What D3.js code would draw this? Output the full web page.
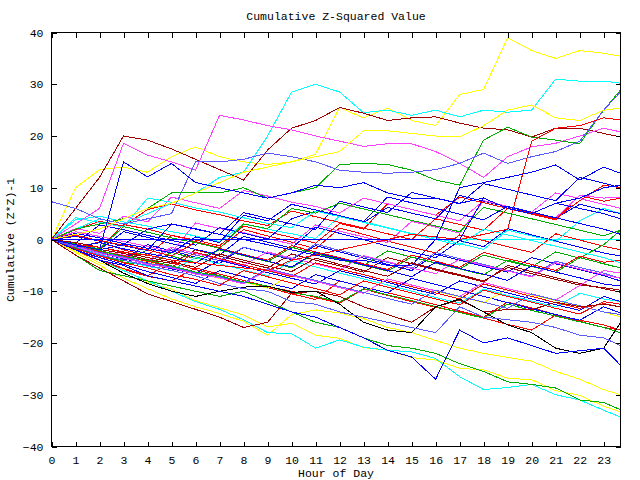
<!DOCTYPE html>
<html><head><meta charset="utf-8">
<script src="https://cdn.jsdelivr.net/npm/d3@7"></script>
<style>
body{margin:0;background:#fff}
text{font-family:"Liberation Mono","DejaVu Sans Mono",monospace;font-size:11.5px;fill:#000}
</style></head><body>
<svg id="c" width="640" height="480"></svg>
<script>
// ---------- data ----------
const hours = [0,1,2,3,4,5,6,7,8,9,10,11,12,13,14,15,16,17,18,19,20,21,22,23,23.7];
const xTicks = [0,1,2,3,4,5,6,7,8,9,10,11,12,13,14,15,16,17,18,19,20,21,22,23];
const yTicks = [-40,-30,-20,-10,0,10,20,30,40];
const title = "Cumulative Z-Squared Value";
const xLabel = "Hour of Day";
const yLabel = "Cumulative (Z*Z)-1";

const zeroYellow = [0,0,0,0,0,0,0,0,0,0,0,0,0,0,0,0,0,0,0,0,0,0,0,0,0];
const zeroCyan   = [0,0,0,0,0,0,0,0,0,0,0,0,0,0,0,0,0,0,0,0,0,0,0,0,0];
const topYellow  = [0,10,13.5,14,13,16,17.9,16,15,14.5,15,16.5,25.5,23.5,25.4,23,22,28,29,39,36.5,35,36.5,36,35.4];
const topCyan    = [0,2,4,3,5,7,9,12,13,20,28.5,30,28.5,24.5,25,24,25,23.7,25,24.6,25,31,30.6,30.6,30.2];
const topDarkRed = [0,6,12,20,19.2,17.5,15.5,13.5,11.5,17.3,21.5,23,25.5,24.4,23,23.5,23.7,22.5,21.5,21.2,19.8,21.5,21.5,20.5,19.8];
const topMagenta = [0,3,6,18.6,16.3,15,13.4,24,23.1,22,21.2,20,19,18,18.5,18.5,17,14.7,12,16,17.9,18.6,20,21.5,20.8];
const topGreen   = [0,2,3,4,6,9,9,9,10,8,9,10,14.5,14.7,14.5,13.4,11.5,10.5,19.2,21.7,19.8,19.2,18.5,25,28.9];
const topSlate   = [7.3,6,4,3,4,5,15,15,15.5,16.7,16,15,13.4,13,12.8,13,13.5,14.7,16.7,14.7,16,17,19,25,28.5];
const yellow2    = [0,1,2,4,6,7,9,11,13,14,15,16,17,21,21,20.5,20,19.8,22,25,26,23.5,23,25,25.4];
const redJump    = [0,-1,-1.5,-2.5,-3,-4,-4.5,-5,-5.5,-6,-4,-3,-2,-1,0,1,0.5,0,1,2,19,21.5,22,23.5,23.1];
const blueJump   = [0,-1,-2,-1,2,3,2,1,0,-1,-2,-3,-4,-4,-5,-5,0,10,11,12,13,14.4,11.5,14,12.8];
const blueHigh   = [0,-1,-2,15,12.1,14.7,11,10,9,8,9,10.5,10,11,9,8,8,7,8,6,5,7,8,10,10.5];
const lowYellow1 = [0,-2.5,-5,-7.5,-9.5,-11.5,-13,-14.3,-15.8,-18.5,-14.5,-13.6,-14.2,-15.3,-17,-18,-19.5,-21,-22,-22.8,-23.5,-25.5,-27,-29,-30];
const lowYellow2 = [0,-2.2,-4.5,-5.8,-8.3,-9.6,-11.8,-13.2,-14.6,-16.9,-16.2,-18.5,-19.1,-20.9,-21.4,-22.8,-23.3,-24.9,-25.2,-26.8,-27.1,-29.2,-30.1,-32.2,-33.3];
const lowCyan    = [0,-2,-4,-6,-8,-10,-12,-13.5,-15.5,-18,-18.2,-21,-19.4,-20.8,-21.4,-21.7,-23,-26.5,-29,-28.6,-28,-30,-31,-33,-34.3];
const lowGreen   = [0,-3,-6,-7,-8,-9,-10,-11,-10,-12,-14,-16,-17,-19,-20.5,-21,-22,-24,-25.5,-27.5,-28,-28.7,-31,-31.5,-32.9];
const lowDarkRed = [0,-3,-5.5,-8,-10.5,-12,-13.5,-15,-17,-16,-10.4,-10,-11,-13,-14.5,-16,-13,-11.7,-14,-13.5,-13.6,-12.1,-13,-12.5,-13];
const lowBlack   = [0,-2,-4,-6.5,-8.5,-10,-11,-10,-9.2,-9,-10.2,-10,-12.5,-16,-17.5,-18,-13,-11.5,-14,-16.5,-18,-21,-22,-21,-16.1];
const lowBlue    = [0,-2,-4,-5,-7,-8,-9,-10,-11,-12.5,-14,-15,-17,-19,-21.4,-22.7,-27,-17.5,-20,-19,-20.5,-22,-21.5,-21,-24.3];
const lowSlate   = [0,-1.5,-3,-4,-5,-6,-7,-8.5,-9.5,-10,-12,-12.5,-14,-15,-16,-17,-18,-13,-15,-15.5,-16,-17,-18.5,-19,-20.5];
const m1  = [0,-1.5,-0.5,-2.0,-3.1,0.8,-0.4,-1.6,1.9,0.7,-0.5,-1.8,2.2,1.0,-0.3,-1.5,-2.6,0.9,-0.2,-1.4,-2.5,1.1,-0.1,-1.3,-2.0];
const m2  = [0,-0.9,-2.0,1.5,0.4,-0.8,-1.9,-3.0,0.6,-0.5,-1.7,2.4,1.2,0.0,-1.3,-2.4,-3.5,-0.2,-1.4,2.1,0.9,-0.3,-1.5,-2.6,-3.2];
const m3  = [0,-1.6,-3.0,-4.1,-2.0,-3.2,-4.5,-1.9,-3.0,-4.2,-5.5,-2.6,-3.8,-5.0,-6.1,-3.4,-4.5,-5.7,-6.8,-4.0,-5.2,-6.3,-3.5,-4.7,-5.5];
const m4  = [0,1.5,0.6,-0.4,-1.3,-2.5,3.2,2.1,1.3,0.2,-0.9,2.8,1.6,0.5,-0.6,3.5,2.4,1.2,7.5,6.4,5.3,9.0,7.9,6.8,6.0];
const m5  = [0,3.8,4.5,3.4,2.6,1.5,0.7,-0.4,3.0,2.0,1.1,0.2,4.5,3.4,2.3,1.2,0.3,-0.8,-1.9,1.8,0.7,-0.4,3.6,6.0,5.0];
const m6  = [0,-2.1,-3.9,-5.6,-7.0,-4.5,-5.8,-7.0,-8.2,-9.3,-10.5,-11.6,-8.0,-9.2,-10.3,-11.4,-12.6,-13.8,-15.0,-12.1,-13.2,-14.5,-15.6,-16.5,-17.5];
const m7  = [0,-1.4,-2.6,-3.7,-1.0,-2.2,-3.4,-4.6,-1.5,-2.7,-3.9,-1.2,-2.4,-3.6,-4.8,-6.0,-2.8,-4.0,-5.2,-6.3,-3.5,-4.7,-5.8,-7.0,-8.0];
const m8  = [0,-0.8,-1.9,-2.7,-3.9,-4.6,-2.0,-3.2,-4.4,-5.5,-2.8,-4.0,-5.1,-6.3,-3.5,-4.7,-5.9,-7.0,-8.2,-5.0,-6.2,-7.4,-8.5,-9.5,-10.2];
const m9  = [0,-1.0,-1.8,2.9,2.0,0.8,-0.1,-1.2,2.6,1.5,0.4,-0.7,3.1,2.0,6.9,5.8,4.7,8.2,7.1,6.0,4.9,3.8,8.5,7.4,8.0];
const m10 = [0,0.6,-0.3,-1.2,-2.1,3.0,2.1,1.0,5.2,4.1,3.0,1.9,7.4,6.3,5.2,9.1,8.0,6.9,10.8,9.7,8.6,7.5,12.0,10.9,10.0];
const m11 = [0,-1.3,-2.5,-3.2,-4.4,-1.8,-3.0,-4.1,-1.5,-2.6,-3.8,-0.9,-2.1,-3.3,-4.4,-5.6,-2.5,-3.7,-4.8,-6.0,-7.1,-4.2,-5.4,-6.5,-7.5];
const m12 = [0,-1.7,-3.1,-4.4,-5.0,-2.5,-3.7,-2.0,-3.1,-4.3,-1.5,-2.7,-3.9,-5.0,-2.2,-3.4,-4.6,-5.7,-3.0,-4.2,-5.3,-2.4,-3.6,-1.0,1.8];
const m13 = [0,-2.2,-4.0,-5.8,-7.1,-8.0,-5.5,-6.7,-7.9,-9.1,-10.0,-11.2,-12.3,-9.6,-10.8,-12.0,-13.1,-14.0,-15.2,-16.4,-17.5,-14.6,-15.8,-17.0,-17.5];
const m14 = [0,-0.7,2.8,1.9,0.8,-0.2,-1.1,2.3,1.2,0.1,4.0,5.5,4.4,3.3,6.2,5.1,4.0,8.5,7.4,6.3,5.2,4.1,6.8,5.7,5.0];
const m15 = [0,-1.1,-2.2,-3.0,-4.1,-1.5,-2.7,-3.8,-5.0,-2.4,-3.6,-4.7,-5.9,-3.1,-4.3,-5.5,-6.6,-3.8,-5.0,-6.1,-7.2,-4.5,-5.7,-6.8,-7.5];
const m16 = [0,-1.5,-2.9,-4.0,-5.2,-6.0,-3.5,-4.7,-5.9,-7.0,-4.1,-5.3,-6.5,-7.6,-8.8,-10.0,-11.2,-12.3,-9.6,-10.8,-11.9,-13.0,-10.4,-11.5,-12.0];
const m17 = [0,0.8,-0.2,-1.1,-2.0,-3.2,-0.5,-1.7,-2.9,-4.0,-1.2,-2.4,-3.5,-4.7,-5.8,-3.0,-4.2,-5.4,-2.5,-3.7,-4.8,-6.0,-3.2,-4.4,-4.0];
const m18 = [0,-2.0,-3.5,-4.8,-6.2,-7.3,-8.5,-6.0,-7.2,-8.4,-9.5,-6.8,-8.0,-9.2,-10.3,-7.5,-8.7,-9.8,-11.0,-12.2,-13.4,-14.5,-15.6,-13.0,-14.2];
const m19 = [0,-1.2,-2.3,-3.5,-4.4,-5.6,-6.3,-7.5,-8.2,-9.4,-6.8,-8.0,-9.1,-10.3,-7.6,-8.8,-10.0,-11.1,-12.2,-9.5,-10.7,-11.8,-12.9,-14.0,-15.0];
const m20 = [0,1.9,3.5,2.6,5.8,6.9,5.7,4.8,3.6,2.7,5.5,4.4,3.3,2.2,1.1,0.0,4.0,2.9,1.8,6.0,5.1,4.0,7.5,10.5,10.0];
const m21 = [0,2.1,1.2,4.5,3.4,8.2,7.1,6.0,9.5,8.4,7.2,6.4,5.1,8.0,6.9,5.8,4.7,3.6,7.5,6.4,5.3,4.2,8.5,8.0,8.2];
const m22 = [0,4.2,3.3,2.4,8.0,7.2,6.1,5.3,4.2,3.1,2.3,5.5,4.4,3.3,2.2,1.1,0.0,-1.1,2.0,0.9,-0.2,-1.3,-2.4,-3.5,-4.5];
const m23 = [0,-1.3,-2.4,-3.8,-4.5,-5.7,-6.6,-4.0,-5.2,-6.4,-7.5,-8.6,-6.0,-7.2,-8.3,-9.5,-10.6,-8.0,-9.2,-10.3,-11.5,-12.6,-13.7,-11.0,-12.0];
const m24 = [0,-0.9,-1.8,2.5,1.4,0.3,-0.6,-1.7,3.0,2.1,6.0,5.1,7.0,5.9,4.8,3.7,2.6,1.5,6.2,5.1,4.0,2.9,1.8,0.7,1.8];
const m25 = [0,-0.6,-1.5,-2.4,-3.5,-4.3,-5.4,-2.8,-4.0,-5.1,-6.2,-3.6,-4.8,-6.0,-7.1,-4.5,-5.7,-6.8,-8.0,-5.4,-6.6,-7.7,-8.8,-9.3,-9.8];
const m26 = [0,-1.1,-2.3,-3.1,-4.2,-5.3,-2.5,-3.7,-4.9,-6.0,-7.2,-4.5,-5.7,-6.8,-8.0,-9.1,-10.3,-11.5,-8.6,-9.8,-11.0,-12.2,-13.3,-12.4,-13.0];
const m27 = [0,1.2,0.3,-0.8,-1.7,-2.6,0.5,-0.6,4.7,3.6,6.8,5.7,4.6,3.5,8.2,7.1,6.0,4.9,3.8,6.4,5.3,4.2,3.1,2.0,1.0];
const m28 = [0,-1.4,-2.7,-3.6,-4.8,-5.5,-6.7,-7.4,-8.6,-5.8,-7.0,-8.1,-9.3,-10.4,-7.6,-8.8,-9.9,-11.0,-8.3,-9.5,-10.6,-11.7,-8.9,-6.0,-6.5];
const m29 = [0,-1.0,-2.1,-3.3,-4.0,-5.1,-6.3,-7.0,-8.2,-9.0,-10.3,-11.0,-12.1,-9.5,-10.7,-11.8,-13.0,-14.1,-15.2,-12.5,-13.7,-14.8,-15.9,-17.0,-18.0];
const m30 = [0,-1.2,-2.5,-3.4,-4.6,-5.3,-6.5,-7.2,-8.4,-5.6,-6.8,-7.9,-9.1,-10.2,-11.4,-12.5,-9.8,-11.0,-12.1,-13.3,-10.5,-11.7,-12.8,-14.0,-14.5];
const m31 = [0,-1.8,-3.2,-4.5,-5.5,-6.8,-7.7,-8.9,-6.0,-7.2,-8.4,-9.5,-10.7,-8.0,-9.2,-10.3,-11.5,-12.6,-9.8,-11.0,-12.1,-13.3,-14.4,-12.0,-12.5];
const m32 = [0,-1.5,-0.6,-1.8,-2.7,-3.5,-4.6,-1.8,-3.0,-4.2,-5.3,-2.5,-3.7,-4.9,-6.0,-7.2,-4.4,-5.6,-6.7,-7.9,-5.1,-6.3,-7.4,-8.6,-9.0];
const zeroBlue = [0,0,0,0,0,0,0,0,0,0,0,0,0,0,0,0,0,0,8,6,5,7,6,5,4];

// series list and colour key (style kept separate from values)
const seriesList = [
  [zeroYellow,"yellow"],[zeroCyan,"cyan"],
  [m1,"red"],[m2,"blue"],[m3,"green"],[m4,"magenta"],[m5,"cyan"],[m6,"red"],[m7,"blue"],[m8,"darkred"],
  [m9,"red"],[m10,"blue"],[m11,"slate"],[m12,"green"],[m13,"red"],[m14,"blue"],[m15,"magenta"],[m16,"cyan"],
  [m17,"red"],[m18,"blue"],[m19,"yellow"],[m20,"red"],[m21,"magenta"],[m22,"cyan"],[m23,"blue"],[m24,"green"],
  [m25,"darkred"],[m26,"red"],[m27,"blue"],[m28,"magenta"],[m29,"green"],[m30,"slate"],[m31,"red"],[m32,"blue"],
  [lowYellow1,"yellow"],[lowYellow2,"yellow"],[lowCyan,"cyan"],[lowGreen,"green"],[lowDarkRed,"darkred"],
  [lowBlack,"black"],[lowBlue,"blue"],[lowSlate,"slate"],
  [topYellow,"yellow"],[topCyan,"cyan"],[topDarkRed,"darkred"],[topMagenta,"magenta"],[topGreen,"green"],
  [topSlate,"slate"],[yellow2,"yellow"],[redJump,"red"],[blueJump,"blue"],[blueHigh,"blue"],
  [zeroBlue,"blue"]
];
const palette = {red:"#ff0000",green:"#00b000",blue:"#0000ff",magenta:"#ff40ff",cyan:"#00ffff",
  darkred:"#a00000",yellow:"#ffff00",black:"#000000",slate:"#5a5aff"};

// ---------- drawing ----------
const svg = d3.select("#c");
const L = 51.5, R = 620.5, T = 32.5, B = 446.5;
const x = d3.scaleLinear().domain([0, 23.7]).range([L, R]);
const y = d3.scaleLinear().domain([-40, 40]).range([B, T]);

const line = d3.line().x((d,i)=>x(hours[i])).y(d=>y(d));
const g = svg.append("g");
seriesList.forEach(([vals,c])=>{
  g.append("path").datum(vals).attr("d", line)
    .attr("fill","none").attr("stroke", palette[c]).attr("stroke-width",1)
    .attr("shape-rendering","crispEdges");
});

// frame
svg.append("rect").attr("x",L).attr("y",T).attr("width",R-L).attr("height",B-T)
  .attr("fill","none").attr("stroke","#000").attr("shape-rendering","crispEdges");

function styleAxis(sel){
  sel.select(".domain").remove();
  sel.selectAll("line").attr("stroke","#000").attr("shape-rendering","crispEdges");
  sel.selectAll("text").attr("fill","#000");
}
svg.append("g").attr("transform",`translate(0,${B})`)
  .call(d3.axisBottom(x).tickValues(xTicks).tickFormat(d3.format("d")).tickSizeInner(-5).tickSizeOuter(0).tickPadding(9))
  .call(styleAxis);
svg.append("g").attr("transform",`translate(0,${T})`)
  .call(d3.axisTop(x).tickValues(xTicks).tickFormat("").tickSizeInner(-5).tickSizeOuter(0))
  .call(styleAxis);
svg.append("g").attr("transform",`translate(${L},0)`)
  .call(d3.axisLeft(y).tickValues(yTicks).tickFormat(d3.format("d")).tickSizeInner(-5).tickSizeOuter(0).tickPadding(8))
  .call(styleAxis);
svg.append("g").attr("transform",`translate(${R},0)`)
  .call(d3.axisRight(y).tickValues(yTicks).tickFormat("").tickSizeInner(-5).tickSizeOuter(0))
  .call(styleAxis);

svg.append("text").attr("x",336).attr("y",20).attr("text-anchor","middle").text(title);
svg.append("text").attr("x",336).attr("y",477).attr("text-anchor","middle").text(xLabel);
svg.append("text").attr("transform","translate(14,240) rotate(-90)").attr("text-anchor","middle").text(yLabel);
</script></body></html>
